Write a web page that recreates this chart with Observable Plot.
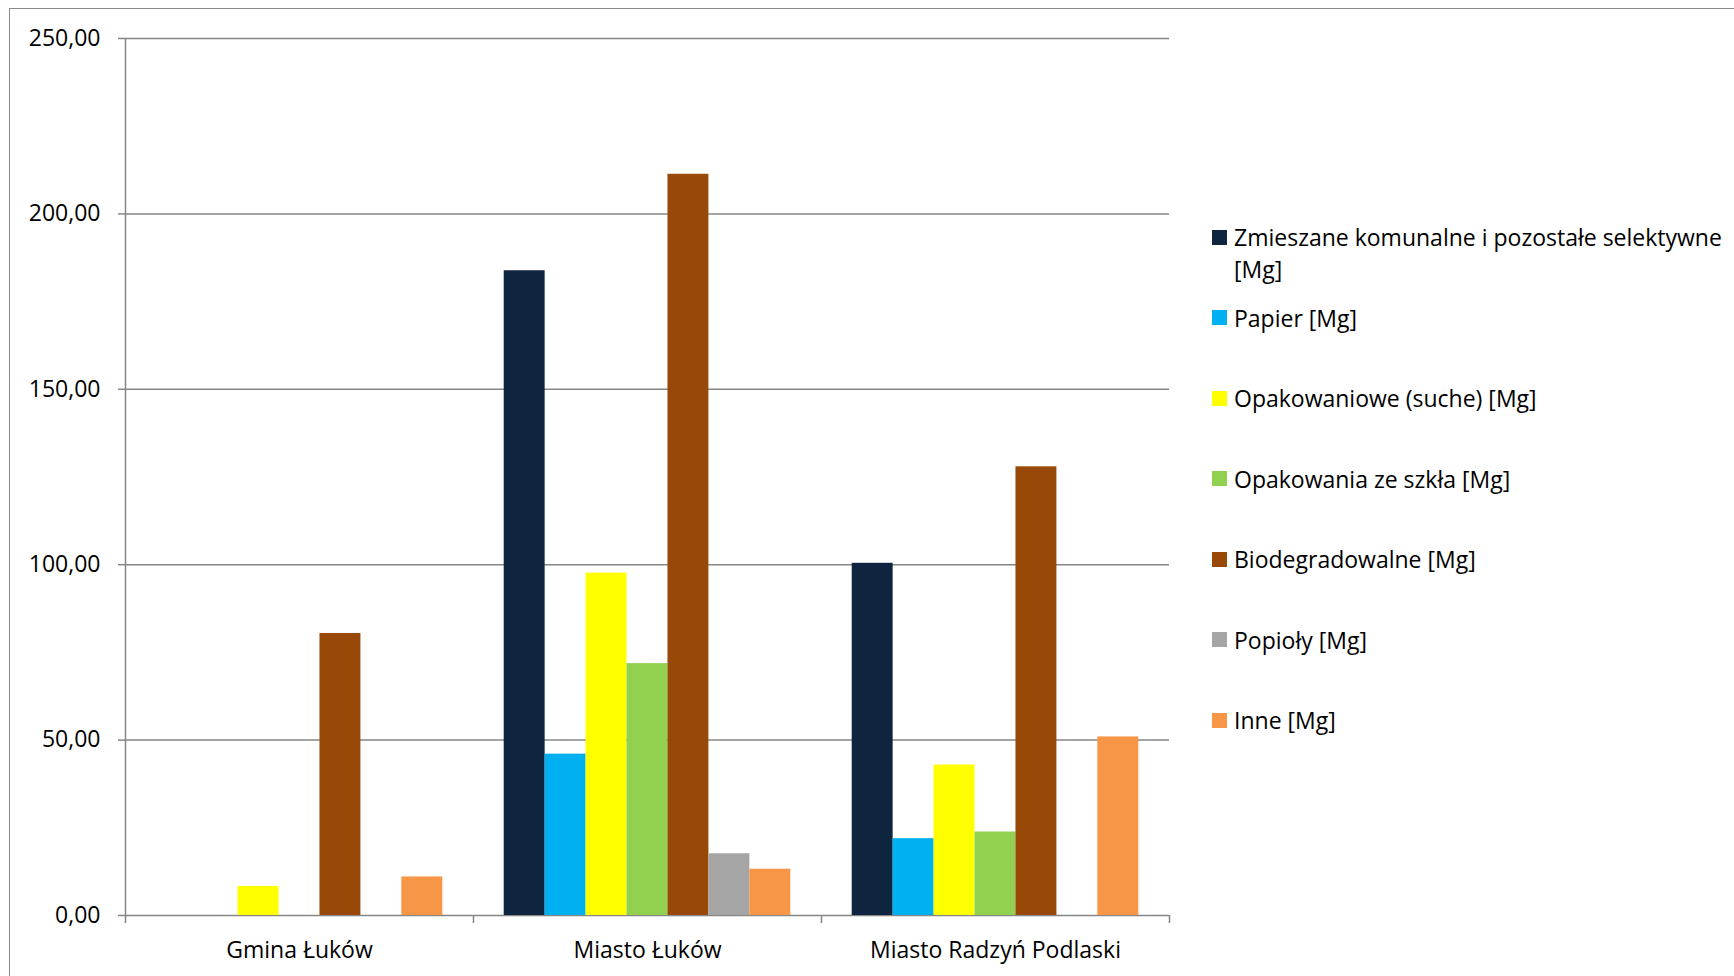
<!DOCTYPE html>
<html>
<head>
<meta charset="utf-8">
<script src="https://cdn.jsdelivr.net/npm/d3@7"></script>
<script src="https://cdn.jsdelivr.net/npm/@observablehq/plot@0.6"></script>
<style>
  html, body { margin: 0; padding: 0; background: #fff; }
  #wrap { position: relative; width: 1734px; height: 976px; overflow: hidden; font-family: "Open Sans", Lato, sans-serif; }
  #chart { position: absolute; left: 0; top: 0; }
  #border { position: absolute; left: 9px; top: 8px; width: 1800px; height: 1000px;
            border-left: 1.5px solid #8a8a8a; border-top: 1.5px solid #8a8a8a; pointer-events: none; }
  #legend { position: absolute; left: 1212px; top: 221px; font-size: 23px; color: #000; line-height: 32px; }
  .item { display: flex; align-items: flex-start; height: 80.5px; }
  .sw { width: 15px; height: 15px; margin-top: 8.5px; margin-right: 7px; flex: none; }
</style>
</head>
<body>
<div id="wrap">
  <div id="chart"></div>
  <div id="legend"></div>
  <div id="border"></div>
</div>
<script>
// ---- data ----
const categories = ["Gmina Łuków", "Miasto Łuków", "Miasto Radzyń Podlaski"];
const series = [
  "Zmieszane komunalne i pozostałe selektywne [Mg]",
  "Papier [Mg]",
  "Opakowaniowe (suche) [Mg]",
  "Opakowania ze szkła [Mg]",
  "Biodegradowalne [Mg]",
  "Popioły [Mg]",
  "Inne [Mg]"
];
const colors = ["#0F243E", "#00B0F0", "#FFFF00", "#92D050", "#984807", "#A5A5A5", "#F79646"];
const zmieszane    = [0, 183.8, 100.4];
const papier       = [0, 46.0, 21.9];
const opakowaniowe = [8.3, 97.6, 42.9];
const szklo        = [0, 71.8, 23.8];
const bio          = [80.4, 211.3, 127.9];
const popioly      = [0, 17.6, 0];
const inne         = [11.0, 13.2, 50.9];
const yTicks = [0, 50, 100, 150, 200, 250];

const valuesBySeries = [zmieszane, papier, opakowaniowe, szklo, bio, popioly, inne];
const data = [];
series.forEach((s, si) => categories.forEach((c, ci) => data.push({category: c, series: s, value: valuesBySeries[si][ci]})));

// ---- layout ----
const W = 1200, H = 976, mL = 125, mR = 31, mT = 38, mB = 61;
const bw = (W - mL - mR) / categories.length;
const grid = "#868686";
const fmt = d => d.toFixed(2).replace(".", ",");

const chart = Plot.plot({
  width: W, height: H,
  marginLeft: mL, marginRight: mR, marginTop: mT, marginBottom: mB,
  style: {background: "transparent", fontFamily: "'Open Sans', Lato, sans-serif", color: "#000", overflow: "visible"},
  fx: {domain: categories, padding: 0, round: false, label: null},
  x: {domain: series, paddingInner: 0, paddingOuter: 0.75, round: false, axis: null},
  y: {domain: [0, 250], axis: null},
  color: {domain: series, range: colors},
  marks: [
    Plot.ruleY(yTicks, {stroke: grid, strokeWidth: 1.5}),
    Plot.barY(data.filter(d => d.value > 0), {fx: "category", x: "series", y: "value", fill: "series"}),
    Plot.ruleX([categories[0]], {fx: d => d, x: null, dx: -bw / 2, stroke: grid, strokeWidth: 1.5}),
    Plot.axisY({ticks: yTicks, tickFormat: fmt, tickSize: 7, tickPadding: 18, stroke: grid, strokeWidth: 1.5, fontSize: 23, label: null}),
    Plot.axisFx({anchor: "bottom", text: null, tickSize: 8, dx: -bw / 2, stroke: grid, strokeWidth: 1.5, label: null}),
    Plot.axisFx({anchor: "bottom", ticks: [categories[categories.length - 1]], text: null, tickSize: 8, dx: bw / 2, stroke: grid, strokeWidth: 1.5, label: null}),
    Plot.axisFx({anchor: "bottom", tickSize: 0, tickPadding: 26, fontSize: 23, label: null})
  ]
});
document.getElementById("chart").appendChild(chart);

// ---- legend ----
const legend = document.getElementById("legend");
series.forEach((s, i) => {
  const item = document.createElement("div");
  item.className = "item";
  const sw = document.createElement("div");
  sw.className = "sw";
  sw.style.background = colors[i];
  const t = document.createElement("div");
  if (i === 0) {
    t.innerHTML = "Zmieszane komunalne i pozostałe selektywne<br>[Mg]";
    t.style.whiteSpace = "nowrap";
  } else {
    t.textContent = s;
  }
  item.appendChild(sw);
  item.appendChild(t);
  legend.appendChild(item);
});
</script>
</body>
</html>
